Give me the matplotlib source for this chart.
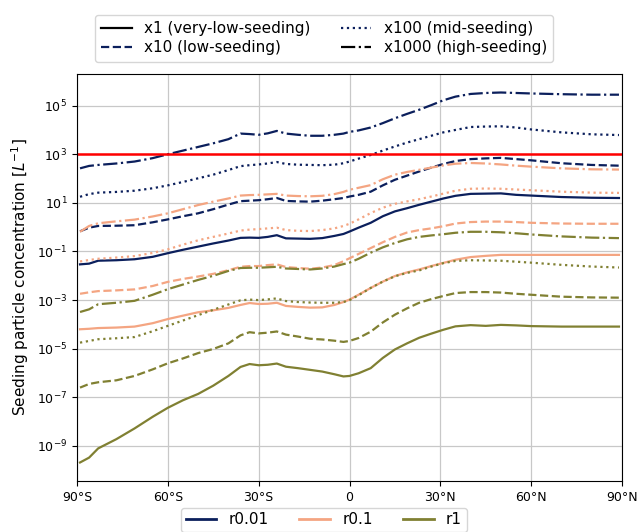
import numpy as np
import matplotlib
matplotlib.use("Agg")
import matplotlib.pyplot as plt
from matplotlib.lines import Line2D
from matplotlib.ticker import NullLocator

# latitude of each zonal-mean value
lats = [-89, -86, -83, -77, -71, -65, -60, -55, -50, -45, -40, -36, -33, -30, -27,
        -24, -21, -17, -13, -9, -5, -2, 0, 3, 7, 11, 15, 19, 23, 27, 31, 35, 40,
        45, 50, 55, 60, 70, 80, 89]

# log10 of seeding particle concentration [L^-1], radius 0.01
r001_x1 = [-1.53, -1.50, -1.38, -1.36, -1.32, -1.22, -1.07, -0.93, -0.80, -0.67, -0.55,
           -0.44, -0.43, -0.44, -0.40, -0.33, -0.46, -0.47, -0.48, -0.45, -0.36, -0.28,
           -0.18, -0.02, 0.18, 0.45, 0.65, 0.78, 0.92, 1.05, 1.18, 1.29, 1.37, 1.38,
           1.39, 1.33, 1.30, 1.24, 1.21, 1.20]
r001_x10 = [-0.17, -0.02, 0.05, 0.06, 0.08, 0.20, 0.32, 0.45, 0.57, 0.74, 0.93, 1.07,
            1.09, 1.11, 1.15, 1.20, 1.08, 1.06, 1.05, 1.09, 1.15, 1.20, 1.26, 1.33,
            1.46, 1.72, 1.95, 2.12, 2.29, 2.45, 2.60, 2.72, 2.80, 2.83, 2.85, 2.80,
            2.75, 2.63, 2.56, 2.53]
r001_x100 = [1.25, 1.36, 1.42, 1.45, 1.50, 1.60, 1.72, 1.86, 2.01, 2.16, 2.35, 2.51,
             2.55, 2.58, 2.62, 2.68, 2.60, 2.57, 2.56, 2.55, 2.57, 2.63, 2.70, 2.82,
             2.97, 3.15, 3.32, 3.48, 3.62, 3.76, 3.90, 4.00, 4.12, 4.14, 4.15, 4.10,
             4.02, 3.90, 3.82, 3.79]
r001_x1000 = [2.42, 2.52, 2.56, 2.62, 2.70, 2.84, 3.00, 3.15, 3.30, 3.45, 3.62, 3.85,
              3.83, 3.80, 3.86, 3.96, 3.85, 3.80, 3.76, 3.76, 3.80, 3.85, 3.92, 3.98,
              4.10, 4.28, 4.48, 4.66, 4.83, 5.02, 5.22, 5.37, 5.48, 5.52, 5.54, 5.52,
              5.50, 5.47, 5.45, 5.45]

# radius 0.1
r01_x1 = [-4.20, -4.18, -4.15, -4.13, -4.09, -3.95, -3.78, -3.64, -3.50, -3.42, -3.32,
          -3.20, -3.12, -3.16, -3.15, -3.11, -3.24, -3.28, -3.31, -3.30, -3.20, -3.08,
          -2.98, -2.78, -2.50, -2.24, -2.01, -1.86, -1.74, -1.60, -1.47, -1.34, -1.23,
          -1.18, -1.14, -1.14, -1.14, -1.14, -1.14, -1.14]
r01_x10 = [-2.74, -2.68, -2.63, -2.60, -2.56, -2.42, -2.25, -2.13, -2.03, -1.92, -1.77,
           -1.63, -1.60, -1.60, -1.56, -1.53, -1.64, -1.68, -1.71, -1.66, -1.56, -1.40,
           -1.28, -1.10, -0.86, -0.62, -0.40, -0.22, -0.12, -0.05, 0.04, 0.15, 0.21,
           0.23, 0.23, 0.21, 0.18, 0.15, 0.14, 0.14]
r01_x100 = [-1.41, -1.35, -1.30, -1.25, -1.19, -1.06, -0.91, -0.72, -0.54, -0.40, -0.26,
            -0.14, -0.10, -0.08, -0.05, -0.02, -0.12, -0.15, -0.16, -0.12, -0.05, 0.05,
            0.14, 0.32, 0.58, 0.80, 0.96, 1.06, 1.15, 1.26, 1.38, 1.50, 1.58, 1.59,
            1.58, 1.55, 1.52, 1.46, 1.42, 1.41]
r01_x1000 = [-0.19, 0.05, 0.16, 0.24, 0.31, 0.44, 0.57, 0.74, 0.91, 1.05, 1.18, 1.30,
             1.32, 1.33, 1.35, 1.37, 1.30, 1.28, 1.27, 1.29, 1.36, 1.45, 1.54, 1.62,
             1.73, 1.97, 2.16, 2.27, 2.36, 2.45, 2.54, 2.61, 2.64, 2.62, 2.58, 2.53,
             2.49, 2.42, 2.38, 2.37]

# radius 1
r1_x1 = [-9.68, -9.48, -9.10, -8.72, -8.28, -7.80, -7.43, -7.12, -6.86, -6.52, -6.12,
         -5.75, -5.63, -5.68, -5.66, -5.61, -5.74, -5.80, -5.87, -5.94, -6.05, -6.14,
         -6.12, -6.01, -5.80, -5.38, -5.03, -4.78, -4.55, -4.38, -4.22, -4.08, -4.03,
         -4.06, -4.02, -4.04, -4.07, -4.09, -4.09, -4.09]
r1_x10 = [-6.60, -6.45, -6.38, -6.30, -6.12, -5.85, -5.60, -5.40, -5.18, -5.01, -4.78,
          -4.45, -4.32, -4.37, -4.34, -4.29, -4.42, -4.50, -4.59, -4.62, -4.67, -4.72,
          -4.68, -4.56, -4.30, -3.92, -3.60, -3.34, -3.11, -2.96, -2.83, -2.71, -2.67,
          -2.67, -2.69, -2.74, -2.78, -2.86, -2.89, -2.90]
r1_x100 = [-4.75, -4.68, -4.61, -4.57, -4.52, -4.28, -4.06, -3.84, -3.62, -3.40, -3.18,
           -3.01, -2.98, -3.00, -2.97, -2.93, -3.04, -3.08, -3.10, -3.11, -3.11, -3.08,
           -3.00, -2.80, -2.50, -2.24, -2.02, -1.88, -1.78, -1.62, -1.48, -1.39, -1.36,
           -1.37, -1.38, -1.42, -1.46, -1.55, -1.62, -1.66]
r1_x1000 = [-3.49, -3.38, -3.17, -3.11, -3.03, -2.78, -2.55, -2.36, -2.17, -2.00, -1.80,
            -1.68, -1.67, -1.67, -1.65, -1.63, -1.70, -1.72, -1.74, -1.70, -1.62, -1.52,
            -1.46, -1.30, -1.05, -0.83, -0.65, -0.50, -0.40, -0.34, -0.29, -0.23, -0.19,
            -0.19, -0.21, -0.25, -0.30, -0.38, -0.43, -0.45]

radii = ["r0.01", "r0.1", "r1"]
colors = ["#0b1f5c", "#f4a582", "#808032"]
seedings = ["x1 (very-low-seeding)", "x10 (low-seeding)", "x100 (mid-seeding)",
            "x1000 (high-seeding)"]
styles = ["-", "--", ":", "-."]
curves = [[r001_x1, r001_x10, r001_x100, r001_x1000],
          [r01_x1, r01_x10, r01_x100, r01_x1000],
          [r1_x1, r1_x10, r1_x100, r1_x1000]]

xticks = [-90, -60, -30, 0, 30, 60, 90]
xticklabels = ["90°S", "60°S", "30°S", "0", "30°N", "60°N", "90°N"]
threshold = 1e3

fig = plt.figure(figsize=(6.39, 5.32), dpi=100)
ax = fig.add_axes([0.1205, 0.0959, 0.8529, 0.765])

lat = np.array(lats)
for c, col in enumerate(colors):
    for s, ls in enumerate(styles):
        ax.plot(lat, 10.0 ** np.array(curves[c][s]), color=col, ls=ls, lw=1.6)

ax.axhline(threshold, color="red", lw=1.8)

ax.set_yscale("log")
ax.set_yticks([10.0 ** k for k in range(-9, 6, 2)])
ax.yaxis.set_minor_locator(NullLocator())
ax.set_xlim(-90, 90)
ax.set_xticks(xticks)
ax.set_xticklabels(xticklabels)
ax.tick_params(labelsize=9)
ax.grid(True, color="#c8c8c8", lw=0.9)
ax.set_axisbelow(True)
ax.set_ylabel("Seeding particle concentration [$L^{-1}$]", fontsize=11)

# legend for the seeding levels (line style)
style_handles = [Line2D([], [], color="k", ls="-", lw=1.6),
                 Line2D([], [], color=colors[0], ls="--", lw=1.6),
                 Line2D([], [], color=colors[0], ls=":", lw=1.6),
                 Line2D([], [], color="k", ls="-.", lw=1.6)]
fig.legend(style_handles, seedings, loc="upper center", ncol=2,
           bbox_to_anchor=(0.507, 0.978), fontsize=11, columnspacing=2.0,
           borderaxespad=0.2, labelspacing=0.3)

# legend for the particle radius (colour), sitting below the tick labels
color_handles = [Line2D([], [], color=col, lw=2) for col in colors]
fig.legend(color_handles, radii, loc="upper center", ncol=3,
           bbox_to_anchor=(0.507, 0.046), fontsize=11, columnspacing=2.0,
           borderaxespad=0.0, borderpad=0.3)

fig.savefig("out.png", dpi=100)
